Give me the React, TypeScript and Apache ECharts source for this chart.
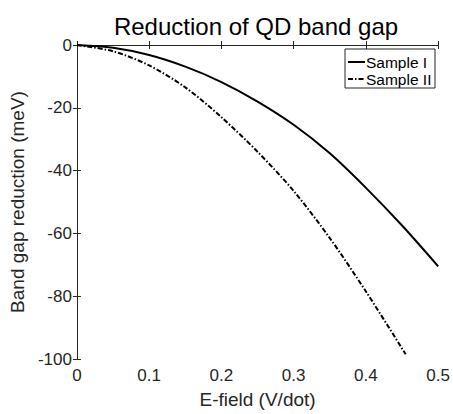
import React, { useEffect, useRef } from "react";
import * as echarts from "echarts";

const xValuesI = [0, 0.05, 0.1, 0.15, 0.2, 0.25, 0.3, 0.35, 0.4, 0.45, 0.5];
const sampleI = [0, -0.9, -3.2, -6.9, -11.8, -18.0, -25.4, -34.5, -45.5, -57.5, -70.5];
const xValuesII = [0, 0.05, 0.1, 0.15, 0.2, 0.25, 0.3, 0.35, 0.4, 0.455];
const sampleII = [0, -2.0, -6.5, -13.5, -23.0, -34.0, -46.5, -61.5, -78.5, -98.5];
const seriesNames = ["Sample I", "Sample II"];
const titleText = "Reduction of QD band gap";
const xLabel = "E-field (V/dot)";
const yLabel = "Band gap reduction (meV)";

const DASH_DOT = [5, 2, 1.5, 2];

export default function App() {
  const ref = useRef<HTMLDivElement>(null);
  useEffect(() => {
    if (!ref.current) return;
    document.body.style.margin = "0";
    const chart = echarts.init(ref.current, undefined, { renderer: "svg" });
    const font = "Liberation Sans, Arial, sans-serif";
    const axisColor = "#262626";
    const common = {
      axisLine: { show: true, lineStyle: { color: axisColor, width: 1 } },
      axisTick: { show: true, inside: true, length: 4, lineStyle: { color: axisColor } },
      splitLine: { show: false },
    };
    chart.setOption({
      animation: false,
      backgroundColor: "#fff",
      title: {
        text: titleText,
        left: 251,
        textAlign: "center",
        top: 9,
        textStyle: { fontFamily: font, fontSize: 24, fontWeight: "normal", color: "#000" },
      },
      grid: { left: 72.5, right: 12.5, top: 45, bottom: 50 },
      graphic: [
        {
          type: "rect",
          shape: { x: 345, y: 49, width: 90, height: 39 },
          style: { fill: "#fff", stroke: axisColor, lineWidth: 1 },
          z: 10,
        },
        {
          type: "line",
          shape: { x1: 348, y1: 62, x2: 365, y2: 62 },
          style: { stroke: "#000", lineWidth: 2 },
          z: 11,
        },
        {
          type: "line",
          shape: { x1: 348, y1: 79, x2: 365, y2: 79 },
          style: { stroke: "#000", lineWidth: 2, lineDash: DASH_DOT },
          z: 11,
        },
        {
          type: "text",
          x: 366,
          y: 62,
          style: {
            text: seriesNames[0],
            fontFamily: font,
            fontSize: 15.5,
            fill: "#000",
            verticalAlign: "middle",
          },
          z: 11,
        },
        {
          type: "text",
          x: 366,
          y: 79,
          style: {
            text: seriesNames[1],
            fontFamily: font,
            fontSize: 15.5,
            fill: "#000",
            verticalAlign: "middle",
          },
          z: 11,
        },
      ],
      xAxis: [
        {
          type: "value",
          min: 0,
          max: 0.5,
          interval: 0.1,
          position: "bottom",
          name: xLabel,
          nameLocation: "middle",
          nameGap: 31,
          nameTextStyle: { fontFamily: font, fontSize: 19, color: axisColor },
          axisLabel: { fontFamily: font, fontSize: 17, color: axisColor, margin: 8 },
          ...common,
        },
        {
          type: "value",
          min: 0,
          max: 0.5,
          interval: 0.1,
          position: "top",
          axisLabel: { show: false },
          ...common,
        },
      ],
      yAxis: [
        {
          type: "value",
          min: -100,
          max: 0,
          interval: 20,
          position: "left",
          name: yLabel,
          nameLocation: "middle",
          nameGap: 41,
          nameTextStyle: { fontFamily: font, fontSize: 19, color: axisColor },
          axisLabel: { fontFamily: font, fontSize: 17, color: axisColor, margin: 5 },
          ...common,
        },
        {
          type: "value",
          min: -100,
          max: 0,
          interval: 20,
          position: "right",
          axisLabel: { show: false },
          ...common,
        },
      ],
      series: [
        {
          name: seriesNames[0],
          type: "line",
          data: xValuesI.map((x, i) => [x, sampleI[i]]),
          smooth: 0.3,
          symbol: "none",
          lineStyle: { color: "#000", width: 2, type: "solid" },
          itemStyle: { color: "#000" },
        },
        {
          name: seriesNames[1],
          type: "line",
          data: xValuesII.map((x, i) => [x, sampleII[i]]),
          smooth: 0.3,
          symbol: "none",
          lineStyle: { color: "#000", width: 2, type: DASH_DOT },
          itemStyle: { color: "#000" },
        },
      ],
    });
    return () => chart.dispose();
  }, []);
  return <div ref={ref} style={{ width: 453, height: 414 }} />;
}
